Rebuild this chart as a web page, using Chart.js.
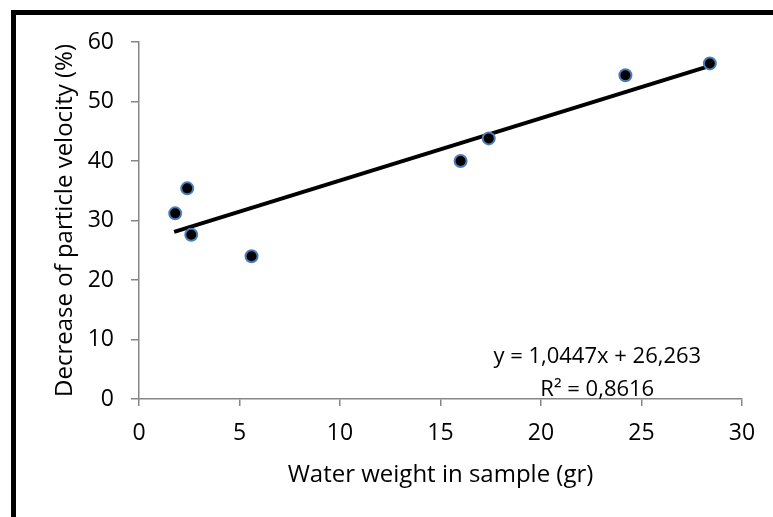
<!DOCTYPE html>
<html>
<head>
<meta charset="utf-8">
<script src="https://cdn.jsdelivr.net/npm/chart.js@4"></script>
<style>
  html, body { margin: 0; padding: 0; background: #fff; overflow: hidden; }
  #wrap { position: relative; width: 773px; height: 517px; }
  #frame { position: absolute; left: 11px; top: 10px; width: 820px; height: 600px; border: 5px solid #000; box-sizing: border-box; }
  canvas { position: absolute; left: 0; top: 0; }
</style>
</head>
<body>
<div id="wrap">
  <div id="frame"></div>
  <canvas id="chart" width="773" height="517"></canvas>
</div>
<script>
const waterWeight = [1.8, 2.4, 2.6, 5.6, 16.0, 17.4, 24.2, 28.4];
const velocityDecrease = [31.2, 35.4, 27.6, 24.0, 40.0, 43.8, 54.4, 56.4];

// trend line end points
const trendX = [1.75, 28.4];
const trendY = [28.1, 56.0];

const equationLines = ['y = 1,0447x + 26,263', 'R\u00b2 = 0,8616'];

const xTitle = 'Water weight in sample (gr)';
const yTitle = 'Decrease of particle velocity (%)';

const font = '"Open Sans", sans-serif';
const axisGray = '#868686';

const equationLabel = {
    id: 'equationLabel',
    afterDatasetsDraw(chart) {
        const { ctx, chartArea, scales } = chart;
        const cx = scales.x.getPixelForValue(22.8);
        ctx.save();
        ctx.font = '22px ' + font;
        ctx.fillStyle = '#000';
        ctx.textAlign = 'center';
        ctx.textBaseline = 'alphabetic';
        ctx.fillText(equationLines[0], cx, chartArea.bottom - 36);
        ctx.fillText(equationLines[1], cx, chartArea.bottom - 3);
        ctx.restore();
    }
};

new Chart(document.getElementById('chart'), {
    type: 'scatter',
    data: {
        datasets: [
            {
                label: 'Measured',
                data: waterWeight.map((x, i) => ({ x: x, y: velocityDecrease[i] })),
                backgroundColor: '#000',
                borderColor: '#4a7ebb',
                borderWidth: 2,
                pointRadius: 6,
                pointHoverRadius: 6,
                order: 1
            },
            {
                label: 'Trend',
                type: 'line',
                data: trendX.map((x, i) => ({ x: x, y: trendY[i] })),
                borderColor: '#000',
                borderWidth: 4,
                pointRadius: 0,
                fill: false,
                order: 2
            }
        ]
    },
    options: {
        responsive: false,
        animation: false,
        layout: { padding: { top: 42, right: 31, left: 0, bottom: 0 } },
        plugins: {
            legend: { display: false },
            tooltip: { enabled: false }
        },
        scales: {
            x: {
                type: 'linear',
                min: 0,
                max: 30,
                afterFit: scale => { scale.height = 118; },
                ticks: { stepSize: 5, color: '#000', padding: 14, font: { family: font, size: 23 } },
                grid: { drawOnChartArea: false, tickLength: 7, color: axisGray, lineWidth: 1.5 },
                border: { color: axisGray, width: 1.5 },
                title: {
                    display: true,
                    text: xTitle,
                    color: '#000',
                    font: { family: font, size: 24 },
                    padding: { top: 0, bottom: 27 }
                }
            },
            y: {
                min: 0,
                max: 60,
                afterFit: scale => { scale.width = 139; },
                ticks: { stepSize: 10, color: '#000', padding: 17, font: { family: font, size: 23 } },
                grid: { drawOnChartArea: false, tickLength: 8, color: axisGray, lineWidth: 1.5 },
                border: { color: axisGray, width: 1.5 },
                title: {
                    display: true,
                    text: yTitle,
                    color: '#000',
                    font: { family: font, size: 24 },
                    padding: { top: 51, bottom: 0 }
                }
            }
        }
    },
    plugins: [equationLabel]
});
</script>
</body>
</html>
